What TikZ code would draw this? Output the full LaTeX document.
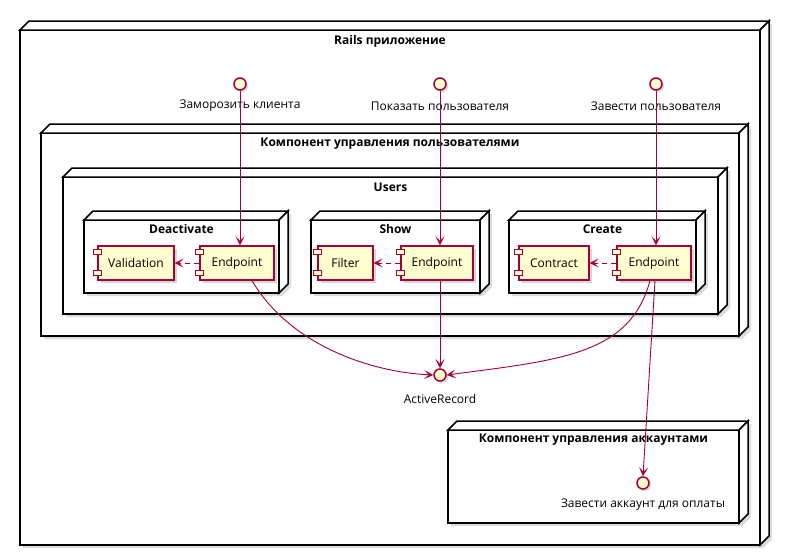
\documentclass[tikz,border=0pt]{standalone}
\usepackage{fontspec}
\setmainfont{Open Sans}
\usetikzlibrary{arrows.meta,calc}
\definecolor{uml}{HTML}{A80036}
\definecolor{umlfill}{HTML}{FEFECE}
\tikzset{
  boxline/.style={draw=black,line width=1.5pt,fill=white,line join=miter},
  shadowfill/.style={fill=black!14,draw=none},
  title/.style={font=\fontsize{12}{14}\selectfont\bfseries,inner sep=0pt},
  lbl/.style={font=\fontsize{12}{14}\selectfont,inner sep=0pt},
  comp/.style={draw=uml,line width=1.2pt,fill=umlfill,minimum height=34pt,inner sep=0pt,font=\fontsize{12}{14}\selectfont,
     preaction={fill=black!16,transform canvas={shift={(3pt,-3pt)}}}},
  iface/.style={circle,draw=uml,line width=1.5pt,fill=umlfill,minimum size=12pt,inner sep=0pt,
     preaction={fill=black!16,transform canvas={shift={(2pt,-2pt)}}}},
  arr/.style={draw=uml,line width=0.9pt,-{Stealth[length=9pt,width=9pt,inset=4.5pt]}},
  darr/.style={arr,dash pattern=on 5pt off 4pt},
  smallrect/.style={draw=uml,line width=1.2pt,fill=umlfill}
}
\newcommand{\threedbox}[5][10]{%
  \fill[shadowfill] ($(#2,#3)+(3,3)$) -- ($(#2,#3)+(#1+3,3-#1)$) -- ($(#4,#3)+(#1+3,3-#1)$) -- ($(#4,#5)+(#1+3,3-#1)$) -- ($(#4,#5)+(3,3)$) -- ($(#2,#5)+(3,3)$) -- cycle;
  \draw[boxline] (#2,#3) rectangle (#4,#5);
  \draw[boxline] (#2,#3) -- ++(#1,-#1) -- ($(#4,#3)+(#1,-#1)$) -- (#4,#3) -- cycle;
  \draw[boxline] (#4,#3) -- ++(#1,-#1) -- ($(#4,#5)+(#1,-#1)$) -- (#4,#5) -- cycle;
}
\begin{document}
\begin{tikzpicture}[x=1pt,y=-1pt]
\useasboundingbox[fill=white] (0,0) rectangle (788,555);
% boxes
\threedbox[9]{20}{30}{760}{545}
\threedbox[9]{41}{133}{739}{336}
\threedbox[9]{63}{177}{718}{314}
\threedbox[9]{84}{220}{279}{293}
\threedbox[9]{311}{220}{480}{293}
\threedbox[9]{509}{220}{696}{293}
\threedbox[9]{448}{430}{739}{523}
% titles
\node[title] (trails) at (390,41) {Rails приложение};
\node[title] (tcomp) at (390,144) {Компонент управления пользователями};
\node[title] (tusers) at (390.5,187) {Users};
\node[title] (tdeact) at (181.5,229) {Deactivate};
\node[title] (tshow) at (395.5,229) {Show};
\node[title] (tcreate) at (602.5,229) {Create};
\node[title] (tacc) at (593.5,440) {Компонент управления аккаунтами};
% interfaces
\node[iface] (iz) at (240,84) {};
\node[iface] (ip) at (440,84) {};
\node[iface] (iv) at (656,84) {};
\node[iface] (ar) at (440,375) {};
\node[iface] (ia) at (643,483) {};
\node[lbl] (lz) at (240,106) {Заморозить клиента};
\node[lbl] (lp) at (440,106) {Показать пользователя};
\node[lbl] (lv) at (656,106) {Завести пользователя};
\node[lbl] (lar) at (440,399) {ActiveRecord};
\node[lbl] (lia) at (643,505) {Завести аккаунт для оплаты};
% components
\node[comp,minimum width=76pt] (val) at (136,263) {Validation};
\node[comp,minimum width=74pt] (ep1) at (237,263) {Endpoint};
\node[comp,minimum width=55pt] (fil) at (345.5,263) {Filter};
\node[comp,minimum width=72pt] (ep2) at (437,263) {Endpoint};
\node[comp,minimum width=70pt] (con) at (554,263) {Contract};
\node[comp,minimum width=74pt] (ep3) at (654,263) {Endpoint};
\foreach \c in {val,ep1,fil,ep2,con,ep3}{
  \draw[smallrect] ($(\c.north west)+(-4,4)$) rectangle ++(8,5);
  \draw[smallrect] ($(\c.south west)+(-4,-10)$) rectangle ++(8,5);
}
% connectors
\draw[darr] (ep1.west) -- (val.east);
\draw[darr] (ep2.west) -- (fil.east);
\draw[darr] (ep3.west) -- (con.east);
\draw[arr] (iz) -- (iz |- ep1.north);
\draw[arr] (ip) -- (ip |- ep2.north);
\draw[arr] (iv) -- (iv |- ep3.north);
\coordinate (s1) at ($(ep1.south)+(15,0)$);
\coordinate (s3) at ($(ep3.south)+(-4,0)$);
\coordinate (s4) at ($(ep3.south)+(1,0)$);
\draw[arr] (s1) .. controls (290,345) and (370,372) .. (ar.west);
\draw[arr] (ep2.south -| ar) -- (ar.north);
\draw[arr] (s3) .. controls (630,355) and (560,360) .. (ar.east);
\draw[arr] (s4) -- (ia.north);
\end{tikzpicture}
\end{document}
